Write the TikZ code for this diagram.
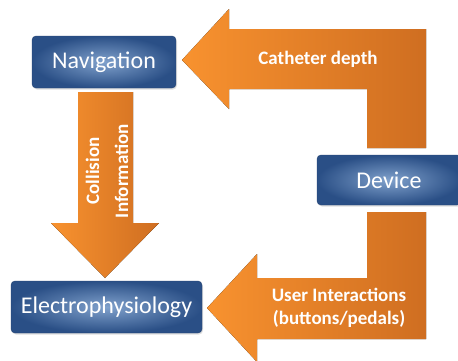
\documentclass[tikz,border=0pt]{standalone}
\usepackage{fontspec}
\setmainfont{Carlito}
\usetikzlibrary{shadows}
\definecolor{orangeL}{HTML}{F8922F}
\definecolor{orangeD}{HTML}{CF6E21}
\definecolor{blueL}{HTML}{80A1CC}
\definecolor{blueD}{HTML}{2A4F86}
\tikzset{
  block/.style={rounded corners=4pt, shading=radial, inner color=blueL,
                outer color=blueD, draw=blueD!85!black, line width=0.4pt,
                text=white, inner sep=0pt, font=\fontsize{24}{29}\selectfont,
                drop shadow={opacity=0.25, shadow xshift=1pt, shadow yshift=-1.5pt}},
  flow/.style={left color=orangeL, right color=orangeD},
  flowtext/.style={text=white, align=center, font=\bfseries\fontsize{19}{23}\selectfont}
}
\begin{document}
\begin{tikzpicture}[x=1pt,y=-1pt]
  \useasboundingbox (0,0) rectangle (458,360);
  \clip (0,0) rectangle (458,360);
  % block arrows
  \fill[flow] (182,60) -- (229,9) -- (229,29) -- (426,29) -- (426,148)
       -- (367,148) -- (367,89) -- (229,89) -- (229,109) -- cycle;
  \fill[flow] (78,92) -- (133,92) -- (133,223) -- (159,223) -- (105,278)
       -- (51,223) -- (78,223) -- cycle;
  \fill[flow] (426,212) -- (426,339) -- (257,339) -- (257,362) -- (207,308)
       -- (257,254) -- (257,278) -- (367,278) -- (367,212) -- cycle;
  % boxes
  \node[block, minimum width=144pt, minimum height=52pt] (nav) at (104,62) {Navigation};
  \node[block, minimum width=144pt, minimum height=50pt] (dev) at (389,180) {Device};
  \node[block, minimum width=191pt, minimum height=52pt] (ep) at (106.5,307) {Electrophysiology};
  % labels
  \node[flowtext] (depth) at (318,59) {Catheter depth};
  \node[flowtext, rotate=90, font=\bfseries\fontsize{19}{29}\selectfont] (coll) at (107,171)
       {Collision\\Information};
  \node[flowtext] (user) at (339,308) {User Interactions\\(buttons/pedals)};
\end{tikzpicture}
\end{document}
